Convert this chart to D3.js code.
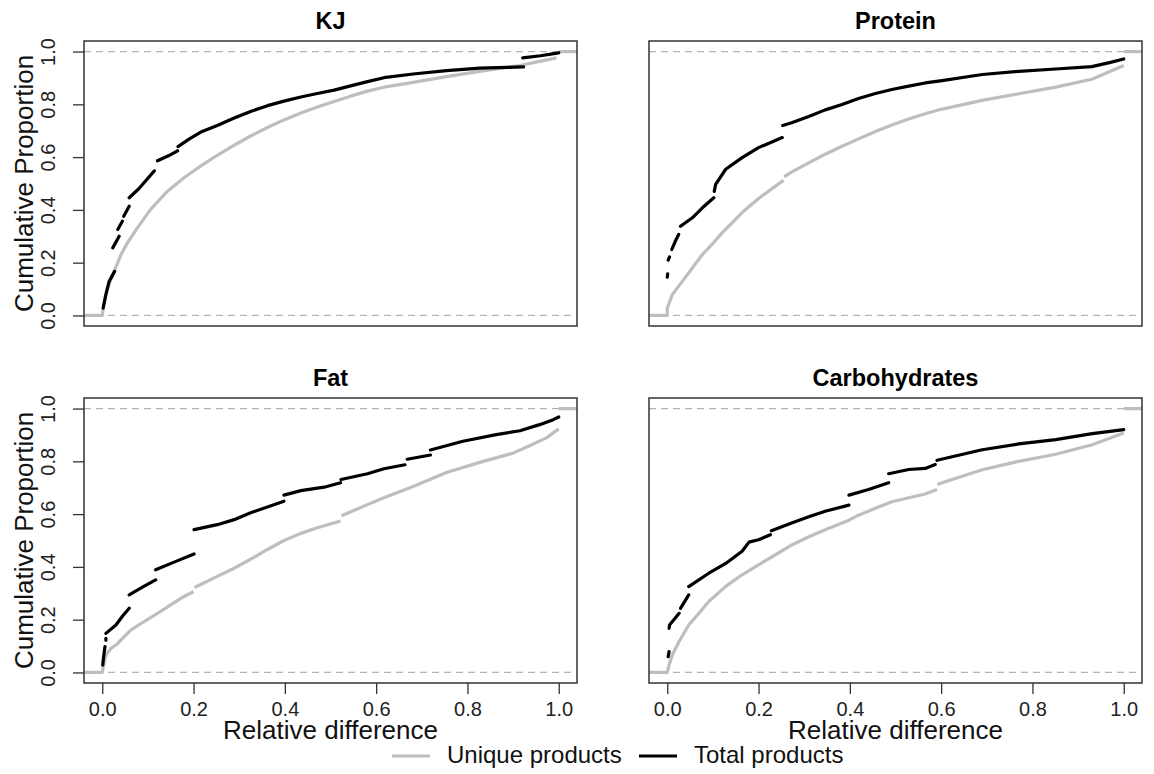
<!DOCTYPE html>
<html>
<head>
<meta charset="utf-8">
<script src="https://cdn.jsdelivr.net/npm/d3@7"></script>
<style>
  body { margin: 0; background: #fff; }
  svg { display: block; font-family: 'Liberation Sans', Arial, sans-serif; }
</style>
</head>
<body>
<svg id="chart"></svg>
<script>
const W = 1154, H = 774;

// ── Data: ECDF traces. null = jump (no vertical drawn) ──
const yTicks = [0, 0.2, 0.4, 0.6, 0.8, 1.0];
const xTicks = [0, 0.2, 0.4, 0.6, 0.8, 1.0];
const panelTitles = ['KJ', 'Protein', 'Fat', 'Carbohydrates'];
const seriesNames = ['Unique products', 'Total products'];

const kjUnique = [[-0.04,0],[0,0],[0.004,0.05],[0.012,0.104],[0.026,0.167],[0.041,0.23],[0.055,0.275],
  [0.077,0.332],[0.106,0.402],[0.143,0.471],[0.179,0.522],[0.216,0.567],[0.252,0.607],[0.289,0.645],
  [0.325,0.68],[0.362,0.712],[0.398,0.741],[0.435,0.767],[0.471,0.79],[0.508,0.811],[0.544,0.831],
  [0.581,0.85],[0.617,0.865],[0.681,0.883],[0.754,0.905],[0.827,0.925],[0.886,0.94],[0.915,0.947],
  [0.958,0.963],[0.995,0.976], null, [1,1],[1.04,1]];

const kjTotal = [[0.002,0.028],[0.008,0.08],[0.015,0.129],[0.027,0.167], null,
  [0.023,0.256],[0.037,0.300], null,
  [0.034,0.326],[0.044,0.357], null,
  [0.047,0.376],[0.059,0.414], null,
  [0.059,0.446],[0.080,0.480],[0.100,0.520],[0.114,0.548], null,
  [0.121,0.586],[0.145,0.605],[0.165,0.624], null,
  [0.166,0.640],[0.190,0.668],[0.216,0.695],[0.252,0.720],[0.289,0.748],[0.325,0.773],[0.362,0.795],
  [0.398,0.812],[0.435,0.828],[0.471,0.841],[0.508,0.854],[0.544,0.870],[0.581,0.886],[0.617,0.901],
  [0.681,0.915],[0.754,0.928],[0.827,0.937],[0.886,0.940],[0.923,0.942], null,
  [0.921,0.976],[0.960,0.984],[1.000,0.995]];

const proteinUnique = [[-0.04,0],[0,0],[0,0.028],[0.011,0.079],[0.033,0.129],[0.055,0.18],[0.077,0.231],
  [0.098,0.269],[0.12,0.313],[0.142,0.351],[0.164,0.39],[0.2,0.443],[0.237,0.49],[0.255,0.512], null,
  [0.256,0.526],[0.274,0.545],[0.31,0.578],[0.346,0.611],[0.383,0.641],[0.419,0.669],[0.456,0.697],
  [0.492,0.722],[0.529,0.744],[0.565,0.764],[0.602,0.782],[0.69,0.815],[0.77,0.84],[0.851,0.865],
  [0.93,0.895],[0.971,0.925],[1.0,0.947], null, [1,1],[1.04,1]];

const proteinTotal = [[0,0.145],[0.001,0.158], null,
  [0.002,0.21],[0.005,0.222], null,
  [0.010,0.25],[0.015,0.27],[0.020,0.29],[0.025,0.307], null,
  [0.029,0.338],[0.055,0.37],[0.077,0.408],[0.102,0.446], null,
  [0.103,0.47],[0.106,0.497],[0.128,0.554],[0.164,0.598],[0.2,0.636],[0.252,0.674], null,
  [0.253,0.72],[0.274,0.731],[0.31,0.754],[0.346,0.779],[0.383,0.799],[0.419,0.822],[0.456,0.841],
  [0.492,0.856],[0.529,0.869],[0.565,0.881],[0.602,0.89],[0.69,0.913],[0.77,0.925],[0.851,0.934],
  [0.93,0.943],[0.971,0.959],[1.0,0.972]];

const fatUnique = [[-0.04,0],[0,0],[0.003,0.028],[0.008,0.066],[0.019,0.091],[0.034,0.11],[0.048,0.136],
  [0.063,0.161],[0.092,0.193],[0.121,0.224],[0.15,0.256],[0.179,0.288],[0.2,0.306], null,
  [0.202,0.322],[0.252,0.364],[0.289,0.395],[0.325,0.429],[0.362,0.466],[0.398,0.5],[0.435,0.527],
  [0.471,0.548],[0.522,0.574], null,
  [0.524,0.594],[0.581,0.636],[0.617,0.662],[0.681,0.705],[0.754,0.758],[0.827,0.796],[0.9,0.831],
  [0.937,0.86],[0.973,0.889],[1.0,0.923], null, [1,1],[1.04,1]];

const fatTotal = [[0.001,0.028],[0.003,0.06],[0.006,0.098], null,
  [0.008,0.122],[0.008,0.129], null,
  [0.008,0.148],[0.03,0.18],[0.045,0.215],[0.059,0.243], null,
  [0.059,0.294],[0.09,0.325],[0.117,0.351], null,
  [0.117,0.389],[0.16,0.42],[0.201,0.449], null,
  [0.201,0.541],[0.252,0.56],[0.289,0.579],[0.325,0.605],[0.398,0.649], null,
  [0.398,0.672],[0.435,0.689],[0.486,0.702],[0.522,0.719], null,
  [0.523,0.731],[0.581,0.753],[0.617,0.772],[0.663,0.787], null,
  [0.668,0.808],[0.719,0.824], null,
  [0.719,0.843],[0.79,0.876],[0.863,0.901],[0.915,0.916],[0.958,0.939],[0.988,0.958],[1.0,0.968]];

const carbUnique = [[-0.04,0],[0,0],[0.004,0.028],[0.011,0.066],[0.026,0.117],[0.047,0.18],[0.069,0.224],
  [0.091,0.269],[0.128,0.326],[0.164,0.37],[0.2,0.408],[0.237,0.446],[0.274,0.484],[0.31,0.514],
  [0.346,0.541],[0.398,0.577],[0.419,0.596],[0.456,0.622],[0.492,0.647],[0.529,0.662],[0.565,0.676],
  [0.591,0.693], null,
  [0.592,0.712],[0.602,0.719],[0.69,0.768],[0.77,0.8],[0.851,0.827],[0.931,0.863],[1.0,0.907], null,
  [1,1],[1.04,1]];

const carbTotal = [[0.002,0.06],[0.004,0.079], null,
  [0.004,0.167],[0.005,0.18],[0.026,0.224], null,
  [0.029,0.243],[0.047,0.294], null,
  [0.047,0.325],[0.091,0.376],[0.128,0.413],[0.164,0.459],[0.179,0.494],[0.2,0.503],[0.226,0.522], null,
  [0.228,0.537],[0.274,0.567],[0.31,0.59],[0.346,0.611],[0.398,0.634], null,
  [0.398,0.672],[0.441,0.693],[0.485,0.719], null,
  [0.485,0.753],[0.529,0.769],[0.565,0.773],[0.587,0.788], null,
  [0.591,0.804],[0.69,0.844],[0.77,0.866],[0.851,0.882],[0.931,0.905],[1.0,0.92]];

const UNIQUE_COLOR = '#bebebe';
const TOTAL_COLOR  = '#000000';
const FONT = "'Liberation Sans', Arial, sans-serif";

const svg = d3.select('#chart')
    .attr('width', W)
    .attr('height', H);

svg.append('rect').attr('width', W).attr('height', H).attr('fill', '#fff');

const panels = [
  { title: panelTitles[0], left: 84,  top: 41,  yAxis: true,  xAxis: false, unique: kjUnique,      total: kjTotal },
  { title: panelTitles[1], left: 649, top: 41,  yAxis: false, xAxis: false, unique: proteinUnique, total: proteinTotal },
  { title: panelTitles[2], left: 84,  top: 398, yAxis: true,  xAxis: true,  unique: fatUnique,     total: fatTotal },
  { title: panelTitles[3], left: 649, top: 398, yAxis: false, xAxis: true,  unique: carbUnique,    total: carbTotal }
];
const PW = 493, PH = 285;

panels.forEach(p => {
    const x = d3.scaleLinear().domain([-0.04, 1.04]).range([p.left, p.left + PW]);
    const y = d3.scaleLinear().domain([-0.04, 1.04]).range([p.top + PH, p.top]);
    const g = svg.append('g');

    // dashed reference lines at 0 and 1
    g.selectAll('line.ref')
        .data([0, 1])
        .join('line')
        .attr('class', 'ref')
        .attr('x1', p.left).attr('x2', p.left + PW)
        .attr('y1', d => y(d)).attr('y2', d => y(d))
        .attr('stroke', '#b3b3b3')
        .attr('stroke-width', 1.3)
        .attr('stroke-dasharray', '7,5');

    const line = d3.line()
        .defined(d => d !== null)
        .x(d => x(d[0]))
        .y(d => y(d[1]));

    g.append('path')
        .attr('d', line(p.unique))
        .attr('fill', 'none')
        .attr('stroke', UNIQUE_COLOR)
        .attr('stroke-width', 3.2)
        .attr('stroke-linejoin', 'round');

    g.append('path')
        .attr('d', line(p.total))
        .attr('fill', 'none')
        .attr('stroke', TOTAL_COLOR)
        .attr('stroke-width', 3.2)
        .attr('stroke-linecap', 'round')
        .attr('stroke-linejoin', 'round');

    // frame
    g.append('rect')
        .attr('x', p.left).attr('y', p.top)
        .attr('width', PW).attr('height', PH)
        .attr('fill', 'none')
        .attr('stroke', '#333')
        .attr('stroke-width', 1.5);

    // title
    g.append('text')
        .attr('x', p.left + PW / 2)
        .attr('y', p.top - 12)
        .attr('text-anchor', 'middle')
        .attr('font-family', FONT)
        .attr('font-weight', 'bold')
        .attr('font-size', '23.5px')
        .text(p.title);

    if (p.yAxis) {
        const ax = g.append('g')
            .attr('transform', `translate(${p.left},0)`)
            .call(d3.axisLeft(y).tickValues(yTicks).tickFormat(d3.format('.1f')).tickSize(11));
        ax.select('.domain').remove();
        ax.selectAll('line').attr('stroke', '#333').attr('stroke-width', 1.3);
        ax.selectAll('text')
            .attr('x', null).attr('dy', null)
            .attr('transform', 'translate(-29,0) rotate(-90)')
            .attr('text-anchor', 'middle')
            .attr('font-family', FONT)
            .attr('font-size', '20px')
            .attr('fill', '#222');

        g.append('text')
            .attr('transform', `translate(33,${p.top + PH / 2}) rotate(-90)`)
            .attr('text-anchor', 'middle')
            .attr('font-family', FONT)
            .attr('font-size', '26px')
            .attr('fill', '#111')
            .text('Cumulative Proportion');
    }

    if (p.xAxis) {
        const ax = g.append('g')
            .attr('transform', `translate(0,${p.top + PH})`)
            .call(d3.axisBottom(x).tickValues(xTicks).tickFormat(d3.format('.1f')).tickSize(11));
        ax.select('.domain').remove();
        ax.selectAll('line').attr('stroke', '#333').attr('stroke-width', 1.3);
        ax.selectAll('text')
            .attr('y', 33).attr('dy', null)
            .attr('font-family', FONT)
            .attr('font-size', '20px')
            .attr('fill', '#222');

        g.append('text')
            .attr('x', p.left + PW / 2)
            .attr('y', p.top + PH + 56)
            .attr('text-anchor', 'middle')
            .attr('font-family', FONT)
            .attr('font-size', '26px')
            .attr('fill', '#111')
            .text('Relative difference');
    }
});

// ── Legend ──
const legend = svg.append('g');
const legendItems = [
    { name: seriesNames[0], color: UNIQUE_COLOR, x: 392 },
    { name: seriesNames[1], color: TOTAL_COLOR,  x: 639 }
];
legendItems.forEach(d => {
    legend.append('line')
        .attr('x1', d.x).attr('x2', d.x + 38)
        .attr('y1', 756).attr('y2', 756)
        .attr('stroke', d.color)
        .attr('stroke-width', 3.2);
    legend.append('text')
        .attr('x', d.x + 55)
        .attr('y', 763)
        .attr('font-family', FONT)
        .attr('font-size', '24px')
        .attr('fill', '#111')
        .text(d.name);
});
</script>
</body>
</html>
